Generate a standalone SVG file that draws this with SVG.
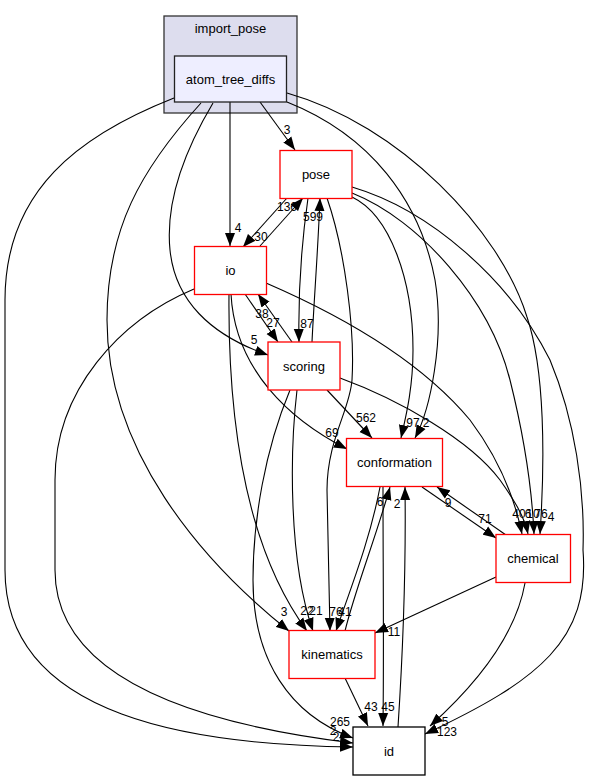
<svg xmlns="http://www.w3.org/2000/svg" width="591" height="780" viewBox="0 0 591 780">
<defs>
<marker id="a" markerWidth="13" markerHeight="11" refX="13" refY="5.5" orient="auto" markerUnits="userSpaceOnUse"><path d="M0,0.5 L13,5.5 L0,10.5 z" fill="#000"/></marker>
<style>
.e{fill:none;stroke:#000;stroke-width:1.1;marker-end:url(#a)}
.l{font-family:"Liberation Sans",Arial,sans-serif;font-size:12px;fill:#000;text-anchor:middle}
.n{font-family:"Liberation Sans",Arial,sans-serif;font-size:13px;fill:#000;text-anchor:middle}
.r{fill:#fff;stroke:#ff0000;stroke-width:1.3}
</style>
</defs>
<rect width="591" height="780" fill="#fff"/>
<g id="cluster_import_pose">
<rect x="164" y="16" width="133" height="97" fill="#ddddee" stroke="#333" stroke-width="1.3"/>
<text class="n" x="230.5" y="33">import_pose</text>
</g>
<g id="connectors">
<path class="e" d="M260,102 L295,150"/>
<text class="l" x="287" y="134">3</text>
<path class="e" d="M230,102 L230,246"/>
<text class="l" x="238" y="232">4</text>
<path class="e" d="M213,103 C185,150 165,200 170,250 C175,300 210,335 268,355"/>
<text class="l" x="254" y="344">5</text>
<path class="e" d="M201,103 C140,170 107,230 107,320 C107,450 200,560 289,631"/>
<text class="l" x="284" y="616">3</text>
<path class="e" d="M174,98 C80,135 5,190 5,300 L5,570 C5,720 200,745 353,747"/>
<text class="l" x="333" y="735">2</text>
<path class="e" d="M194,289 C120,320 55,390 55,480 L55,570 C55,690 230,728 353,743"/>
<text class="l" x="336" y="741">2</text>
<path class="e" d="M290,390 C265,450 253,520 253,580 C253,660 290,715 353,738"/>
<text class="l" x="340" y="726">265</text>
<path class="e" d="M260,246 L303,198"/>
<text class="l" x="287" y="211">136</text>
<path class="e" d="M287,198 L243,247"/>
<text class="l" x="261" y="241">30</text>
<path class="e" d="M312,342 C314,300 318,250 320,198"/>
<text class="l" x="313" y="221">599</text>
<path class="e" d="M308,198 C302,240 298,290 299,342"/>
<text class="l" x="307" y="328">87</text>
<path class="e" d="M245,294 L278,342"/>
<text class="l" x="273" y="327">27</text>
<path class="e" d="M292,342 L258,294"/>
<text class="l" x="262" y="318">38</text>
<path class="e" d="M231,294 C235,370 290,420 347,449"/>
<text class="l" x="332" y="437">69</text>
<path class="e" d="M327,390 L372,438"/>
<text class="l" x="366" y="422">562</text>
<path class="e" d="M352,197 C390,215 413,280 413,350 C413,390 405,420 401,438"/>
<text class="l" x="413" y="427">97</text>
<path class="e" d="M287,102 C370,135 420,200 435,280 C445,340 430,410 415,438"/>
<text class="l" x="426" y="427">2</text>
<path class="e" d="M287,93 C400,125 500,230 527,317 C545,370 545,460 540,534"/>
<path class="e" d="M352,193 C420,220 490,300 510,380 C525,440 532,490 534,534"/>
<path class="e" d="M266,283 C340,315 420,360 470,420 C500,460 515,500 522,534"/>
<path class="e" d="M340,378 C400,400 470,440 500,480 C512,497 524,515 528,534"/>
<text class="l" x="519" y="518">40</text>
<text class="l" x="528" y="518">6</text>
<text class="l" x="533" y="518">10</text>
<text class="l" x="541" y="518">76</text>
<text class="l" x="551" y="521">4</text>
<path class="e" d="M352,187 C430,210 510,280 550,360 C575,420 585,490 583,550 C590,640 540,680 425,734"/>
<text class="l" x="447" y="736">123</text>
<path class="e" d="M422,487 L496,538"/>
<text class="l" x="485" y="523">71</text>
<path class="e" d="M506,535 L437,487"/>
<text class="l" x="448" y="507">9</text>
<path class="e" d="M496,577 L375,633"/>
<text class="l" x="394" y="636">11</text>
<path class="e" d="M525,583 C515,640 470,690 430,726"/>
<text class="l" x="445" y="726">5</text>
<path class="e" d="M345,678 L368,726"/>
<text class="l" x="371" y="711">43</text>
<path class="e" d="M383,487 C383,560 384,650 383,726"/>
<text class="l" x="388" y="711">45</text>
<path class="e" d="M398,727 C403,650 406,560 405,487"/>
<text class="l" x="397" y="508">2</text>
<path class="e" d="M345,631 C355,590 375,540 390,487"/>
<text class="l" x="380" y="506">6</text>
<path class="e" d="M380,487 C370,540 350,590 336,631"/>
<text class="l" x="345" y="616">41</text>
<path class="e" d="M327,198 C345,250 355,330 352,380 C350,410 327,440 327,490 L330,631"/>
<text class="l" x="336" y="616">76</text>
<path class="e" d="M229,294 C228,400 240,540 307,631"/>
<text class="l" x="307" y="615">22</text>
<path class="e" d="M297,390 C290,450 288,560 313,631"/>
<text class="l" x="316" y="615">21</text>
</g>
<g id="node_atom_tree_diffs">
<rect x="174.5" y="56" width="112" height="46" fill="#eeeeff" stroke="#222" stroke-width="1.3"/>
<text class="n" x="230.5" y="83.5">atom_tree_diffs</text>
</g>
<g id="node_pose"><rect class="r" x="280" y="150.5" width="72" height="48"/><text class="n" x="316" y="179">pose</text></g>
<g id="node_io"><rect class="r" x="194.5" y="246.5" width="72" height="48"/><text class="n" x="230.5" y="275">io</text></g>
<g id="node_scoring"><rect class="r" x="268" y="342" width="72" height="48"/><text class="n" x="304" y="370.5">scoring</text></g>
<g id="node_conformation"><rect class="r" x="346.5" y="438.5" width="96" height="48"/><text class="n" x="394.5" y="467">conformation</text></g>
<g id="node_chemical"><rect class="r" x="496" y="534.5" width="74.5" height="48"/><text class="n" x="533" y="563">chemical</text></g>
<g id="node_kinematics"><rect class="r" x="289" y="630.5" width="86" height="48"/><text class="n" x="332" y="659">kinematics</text></g>
<g id="node_id"><rect x="353" y="727" width="72" height="48" fill="#fff" stroke="#000" stroke-width="1.3"/><text class="n" x="389" y="755.5">id</text></g>
</svg>
